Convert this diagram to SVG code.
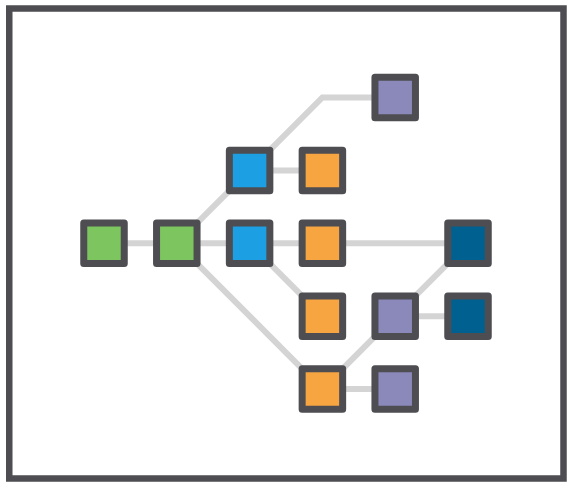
<svg xmlns="http://www.w3.org/2000/svg" width="573" height="491" viewBox="0 0 573 491">
<style>
.frame{fill:none;stroke:#4d4d52;stroke-width:6.5}
.edge{fill:none;stroke:#d4d4d4;stroke-width:6}
.n{stroke:#4d4d52;stroke-width:7;stroke-linejoin:round}
.g{fill:#7dc55f}.b{fill:#1c9fe3}.o{fill:#f7a541}.p{fill:#8b88ba}.d{fill:#00608f}
</style>
<rect x="0" y="0" width="573" height="491" fill="#ffffff"/>
<rect class="frame" x="9.25" y="8.5" width="554.25" height="470"/>
<g id="connectors">
<line class="edge" x1="104" y1="243.3" x2="176.8" y2="243.3"/>
<line class="edge" x1="176.8" y1="243.3" x2="249.6" y2="243.3"/>
<line class="edge" x1="176.8" y1="243.3" x2="249.6" y2="170.4"/>
<line class="edge" x1="176.8" y1="243.3" x2="322.4" y2="389.1"/>
<line class="edge" x1="249.6" y1="170.4" x2="322.4" y2="170.4"/>
<polyline class="edge" points="249.6,170.4 322.4,97.5 395.2,97.5"/>
<line class="edge" x1="249.6" y1="243.3" x2="322.4" y2="243.3"/>
<line class="edge" x1="249.6" y1="243.3" x2="322.4" y2="316.2"/>
<line class="edge" x1="322.4" y1="243.3" x2="468" y2="243.3"/>
<line class="edge" x1="322.4" y1="389.1" x2="395.2" y2="316.2"/>
<line class="edge" x1="322.4" y1="389.1" x2="395.2" y2="389.1"/>
<line class="edge" x1="395.2" y1="316.2" x2="468" y2="243.3"/>
<line class="edge" x1="395.2" y1="316.2" x2="468" y2="316.2"/>
</g>
<g id="green1"><rect class="n g" x="83.75" y="223.05" width="40.5" height="40.5"/></g>
<g id="green2"><rect class="n g" x="156.55" y="223.05" width="40.5" height="40.5"/></g>
<g id="blue1"><rect class="n b" x="229.35" y="150.15" width="40.5" height="40.5"/></g>
<g id="blue2"><rect class="n b" x="229.35" y="223.05" width="40.5" height="40.5"/></g>
<g id="orange1"><rect class="n o" x="302.15" y="150.15" width="40.5" height="40.5"/></g>
<g id="orange2"><rect class="n o" x="302.15" y="223.05" width="40.5" height="40.5"/></g>
<g id="orange3"><rect class="n o" x="302.15" y="295.95" width="40.5" height="40.5"/></g>
<g id="orange4"><rect class="n o" x="302.15" y="368.85" width="40.5" height="40.5"/></g>
<g id="purple1"><rect class="n p" x="374.95" y="77.25" width="40.5" height="40.5"/></g>
<g id="purple2"><rect class="n p" x="374.95" y="295.95" width="40.5" height="40.5"/></g>
<g id="purple3"><rect class="n p" x="374.95" y="368.85" width="40.5" height="40.5"/></g>
<g id="dark1"><rect class="n d" x="447.75" y="223.05" width="40.5" height="40.5"/></g>
<g id="dark2"><rect class="n d" x="447.75" y="295.95" width="40.5" height="40.5"/></g>
</svg>
